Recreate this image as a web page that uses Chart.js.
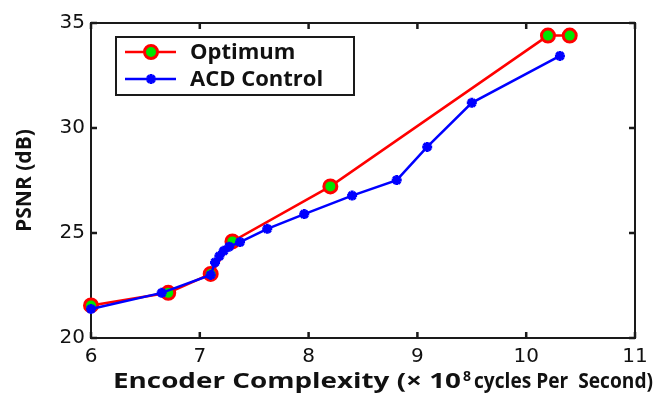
<!DOCTYPE html>
<html>
<head>
<meta charset="utf-8">
<script src="https://cdn.jsdelivr.net/npm/chart.js@4/dist/chart.umd.min.js"></script>
<style>
  html, body { margin: 0; padding: 0; background: #fff; }
  #wrap { width: 655px; height: 393px; }
</style>
</head>
<body>
<div id="wrap"><canvas id="c" width="655" height="393"></canvas></div>
<script>
// ---- data ----
const optimumX = [6.0, 6.71, 7.1, 7.3, 8.2, 10.2, 10.4];
const optimumY = [21.55, 22.15, 23.05, 24.6, 27.22, 34.4, 34.4];
const acdX = [6.0, 6.65, 7.1, 7.14, 7.18, 7.22, 7.27, 7.37, 7.62, 7.96, 8.4, 8.81, 9.09, 9.5, 10.31];
const acdY = [21.38, 22.15, 23.0, 23.6, 23.9, 24.15, 24.35, 24.57, 25.2, 25.9, 26.78, 27.52, 29.1, 31.2, 33.43];
const xTicks = [6, 7, 8, 9, 10, 11];
const yTicks = [20, 25, 30, 35];
const seriesNames = ['Optimum', 'ACD Control'];
const xTitleParts = ['Encoder Complexity (× 10', '8', 'cycles Per  Second)'];
const yTitle = 'PSNR (dB)';

const toPts = (xs, ys) => xs.map((x, i) => ({ x: x, y: ys[i] }));

function fitText(ctx, text, font, x0, x1, baseline) {
  ctx.font = font;
  const w = ctx.measureText(text).width;
  ctx.save();
  ctx.translate(x0, baseline);
  ctx.scale((x1 - x0) / w, 1);
  ctx.textAlign = 'left';
  ctx.textBaseline = 'alphabetic';
  ctx.fillText(text, 0, 0);
  ctx.restore();
}

const frame = {
  id: 'frame',
  beforeDatasetsDraw(chart) {
    const { ctx, chartArea: a, scales } = chart;
    ctx.save();
    ctx.strokeStyle = '#1a1a1a';
    ctx.lineWidth = 2;
    ctx.strokeRect(a.left, a.top, a.right - a.left, a.bottom - a.top);
    ctx.lineWidth = 2.5;
    const L = 6;
    xTicks.forEach(v => {
      const px = scales.x.getPixelForValue(v);
      ctx.beginPath();
      ctx.moveTo(px, a.bottom); ctx.lineTo(px, a.bottom - L);
      ctx.moveTo(px, a.top); ctx.lineTo(px, a.top + L);
      ctx.stroke();
    });
    yTicks.forEach(v => {
      const py = scales.y.getPixelForValue(v);
      ctx.beginPath();
      ctx.moveTo(a.left, py); ctx.lineTo(a.left + L, py);
      ctx.moveTo(a.right, py); ctx.lineTo(a.right - L, py);
      ctx.stroke();
    });
    // x axis title (superscript exponent)
    ctx.fillStyle = '#111';
    fitText(ctx, xTitleParts[0], 'bold 22px "Open Sans"', 113, 461, 388);
    fitText(ctx, xTitleParts[1], 'bold 14px "Open Sans"', 463, 471, 381);
    fitText(ctx, xTitleParts[2], 'bold 22px "Open Sans"', 474, 653, 388);
    ctx.restore();
  },
  afterDatasetsDraw(chart) {
    const { ctx } = chart;
    const bx = 116, by = 37, bw = 238, bh = 58;
    ctx.save();
    ctx.fillStyle = '#fff';
    ctx.fillRect(bx, by, bw, bh);
    ctx.strokeStyle = '#1a1a1a';
    ctx.lineWidth = 2;
    ctx.strokeRect(bx, by, bw, bh);
    const rows = [by + 15, by + 42];
    chart.data.datasets.forEach((ds, i) => {
      const y = rows[i];
      ctx.strokeStyle = ds.borderColor;
      ctx.lineWidth = ds.borderWidth;
      ctx.beginPath();
      ctx.moveTo(125, y); ctx.lineTo(176, y);
      ctx.stroke();
      ctx.fillStyle = ds.pointBackgroundColor;
      ctx.strokeStyle = ds.pointBorderColor;
      ctx.lineWidth = ds.pointBorderWidth;
      Chart.helpers.drawPoint(ctx, {
        pointStyle: ds.pointStyle,
        radius: ds.pointRadius,
        borderWidth: ds.pointBorderWidth,
        rotation: 0
      }, 151, y);
      ctx.fillStyle = '#111';
      ctx.font = 'bold 22px "Open Sans"';
      ctx.textBaseline = 'middle';
      ctx.textAlign = 'left';
      ctx.fillText(ds.label, 190, y + 1);
    });
    ctx.restore();
  }
};

new Chart(document.getElementById('c'), {
  type: 'scatter',
  data: {
    datasets: [
      {
        label: seriesNames[0],
        data: toPts(optimumX, optimumY),
        showLine: true,
        borderColor: '#ff0000',
        borderWidth: 2.5,
        pointStyle: 'circle',
        pointRadius: 6.5,
        pointBorderWidth: 3,
        pointBackgroundColor: '#00e600',
        pointBorderColor: '#ff0000',
        clip: false,
        order: 2
      },
      {
        label: seriesNames[1],
        data: toPts(acdX, acdY),
        showLine: true,
        borderColor: '#0000ff',
        borderWidth: 2.5,
        pointStyle: 'star',
        pointRadius: 5,
        pointBorderWidth: 3,
        pointBackgroundColor: '#0000ff',
        pointBorderColor: '#0000ff',
        clip: false,
        order: 1
      }
    ]
  },
  options: {
    responsive: false,
    animation: false,
    layout: { padding: { top: 23, right: 20, left: 0, bottom: 0 } },
    plugins: { legend: { display: false }, tooltip: { enabled: false } },
    scales: {
      x: {
        type: 'linear', min: 6, max: 11,
        afterBuildTicks: s => { s.ticks = xTicks.map(v => ({ value: v })); },
        afterFit: s => { s.height = 55; },
        grid: { display: false, drawTicks: false },
        border: { display: false },
        ticks: { color: '#111', padding: 7, font: { family: 'DejaVu Sans', size: 20 } },
        title: { display: false }
      },
      y: {
        type: 'linear', min: 20, max: 35,
        afterBuildTicks: s => { s.ticks = yTicks.map(v => ({ value: v })); },
        afterFit: s => { s.width = 91; },
        grid: { display: false, drawTicks: false },
        border: { display: false },
        ticks: { color: '#111', padding: 6, font: { family: 'DejaVu Sans', size: 20 } },
        title: { display: true, text: yTitle, color: '#111', padding: { top: 12, bottom: 0 },
                 font: { family: 'Open Sans', size: 21, weight: 'bold' } }
      }
    }
  },
  plugins: [frame]
});
</script>
</body>
</html>
